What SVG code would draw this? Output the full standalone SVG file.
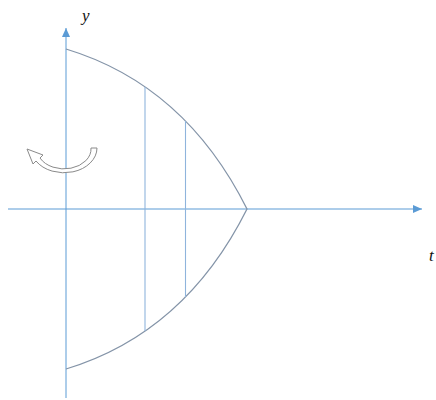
<svg xmlns="http://www.w3.org/2000/svg" width="436" height="400" viewBox="0 0 436 400">
<style>
.axis{stroke:#5b9bd5;stroke-width:1;fill:none}
.curve{stroke:#8494a8;stroke-width:1.3;fill:none}
.chord{stroke:#8fb4dc;stroke-width:1.1;fill:none}
.lbl{font-family:"Liberation Serif",serif;font-style:italic;fill:#111}
</style>
<defs>
<marker id="ah" markerWidth="10" markerHeight="8" refX="9" refY="4" orient="auto" markerUnits="userSpaceOnUse">
<path d="M0,0 L9,4 L0,8 Z" fill="#5b9bd5"/>
</marker>
</defs>
<rect width="436" height="400" fill="#fff"/>
<g id="axes">
<line class="axis" x1="8" y1="209" x2="422" y2="209" marker-end="url(#ah)"/>
<line class="axis" x1="66" y1="398" x2="66" y2="28" marker-end="url(#ah)"/>
</g>
<g id="region">
<path class="curve" d="M66,49 Q185,85 247,209 Q185,333 66,369"/>
<line class="chord" x1="145" y1="87" x2="145" y2="331"/>
<line class="chord" x1="185.5" y1="121" x2="185.5" y2="297"/>
</g>
<g id="rotation">
<path d="M97,148 A33 25 0 0 1 36,161 L33,164 L27,149 L43,155 L40,158 A27 20 0 0 0 91,148 Z" fill="#fff" stroke="#8a8a8a" stroke-width="1"/>
</g>
<g id="labels">
<text class="lbl" x="82" y="21" font-size="17">y</text>
<text class="lbl" x="429" y="261" font-size="17">t</text>
</g>
</svg>
